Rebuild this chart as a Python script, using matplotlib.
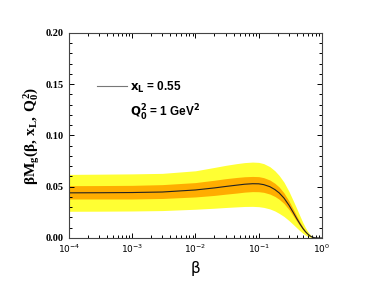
import numpy as np
import matplotlib
matplotlib.use("Agg")
import matplotlib.pyplot as plt
from matplotlib.ticker import LogLocator, MultipleLocator, NullFormatter

plt.rcParams['mathtext.fontset'] = 'custom'
plt.rcParams['mathtext.rm'] = 'Liberation Serif:bold'
plt.rcParams['mathtext.it'] = 'Liberation Serif:bold'
plt.rcParams['mathtext.bf'] = 'Liberation Serif:bold'

# values
beta = [1e-4, 3e-4, 1e-3, 3e-3, 1e-2, 2e-2, 3e-2, 4.5e-2, 6e-2, 8e-2, 0.1, 0.12,
        0.15, 0.18, 0.21, 0.25, 0.3, 0.35, 0.4, 0.45, 0.5, 0.55, 0.6, 0.65, 0.7,
        0.75, 0.8, 0.9, 1.0]
central = [0.044, 0.0441, 0.0443, 0.0448, 0.0468, 0.0488, 0.0502, 0.0515, 0.0524,
           0.0529, 0.0528, 0.0520, 0.0500, 0.0472, 0.0440, 0.0390, 0.0320, 0.0250,
           0.0187, 0.0135, 0.0092, 0.0060, 0.0036, 0.0019, 0.0009, 0.0003, 0.0001,
           0.0, 0.0]
yellow_hi = [0.062, 0.0622, 0.0625, 0.063, 0.0655, 0.0688, 0.0708, 0.0725, 0.0735,
             0.074, 0.0737, 0.0725, 0.0695, 0.0655, 0.0610, 0.0545, 0.0455, 0.0365,
             0.0285, 0.0212, 0.0148, 0.0098, 0.0060, 0.0032, 0.0015, 0.0006, 0.0002,
             0.0, 0.0]
yellow_lo = [0.026, 0.0261, 0.0263, 0.0267, 0.028, 0.0290, 0.0297, 0.0303, 0.0307,
             0.0308, 0.0305, 0.0298, 0.0283, 0.0263, 0.0240, 0.0210, 0.0170, 0.0132,
             0.0098, 0.0069, 0.0045, 0.0027, 0.0015, 0.0007, 0.0003, 0.0001, 0.0,
             0.0, 0.0]
orange_hi = [0.051, 0.0511, 0.0513, 0.052, 0.054, 0.0563, 0.0578, 0.0590, 0.0597,
             0.0600, 0.0598, 0.0588, 0.0565, 0.0533, 0.0497, 0.0440, 0.0362, 0.0283,
             0.0212, 0.0153, 0.0105, 0.0068, 0.0041, 0.0022, 0.0010, 0.0004, 0.0001,
             0.0, 0.0]
orange_lo = [0.038, 0.038, 0.038, 0.0385, 0.040, 0.0415, 0.0427, 0.0438, 0.0447,
             0.0452, 0.0451, 0.0445, 0.0428, 0.0405, 0.0378, 0.0337, 0.0278, 0.0217,
             0.0162, 0.0117, 0.0079, 0.0052, 0.0031, 0.0016, 0.0007, 0.0002, 0.0001,
             0.0, 0.0]

fig = plt.figure(figsize=(3.74, 2.86), dpi=100)
ax = fig.add_axes([0.184, 0.168, 0.677, 0.717])

ax.fill_between(beta, yellow_lo, yellow_hi, color='#ffff33', lw=0)
ax.fill_between(beta, orange_lo, orange_hi, color='#ffad00', lw=0)
ax.plot(beta, central, color='#222222', lw=0.8, label=r'$\mathbf{x_L}$ = 0.55')

ax.set_xscale('log')
ax.set_xlim(1e-4, 1)
ax.set_ylim(0, 0.2)
ax.xaxis.set_major_locator(LogLocator(base=10, numticks=10))
ax.xaxis.set_minor_locator(LogLocator(base=10, subs=np.arange(2, 10), numticks=10))
ax.xaxis.set_minor_formatter(NullFormatter())
ax.yaxis.set_major_locator(MultipleLocator(0.05))
ax.yaxis.set_minor_locator(MultipleLocator(0.01))
ax.yaxis.set_major_formatter(plt.FuncFormatter(lambda v, p: f'{v:.2f}'))

ax.tick_params(which='both', direction='in', top=True, right=True, width=0.7)
ax.tick_params(which='major', length=3.5, labelsize=7.5)
ax.tick_params(axis='x', which='major', labelsize=6.5)
ax.tick_params(which='minor', length=2)
for lbl in ax.get_yticklabels():
    lbl.set_fontfamily('Liberation Serif')
    lbl.set_fontweight('bold')
for s in ax.spines.values():
    s.set_linewidth(0.8)
    s.set_color('#444444')

ax.set_xlabel('β', fontsize=11, family='DejaVu Sans', labelpad=4)
ax.set_ylabel(r'$\beta M_g(\beta,\, x_L,\, Q_0^2)$', fontsize=11, labelpad=3)

leg = ax.legend(loc='upper left', bbox_to_anchor=(0.07, 0.825), frameon=False,
                handlelength=2.5, handletextpad=0.25,
                prop={'family': 'Liberation Sans', 'weight': 'bold', 'size': 8.5})
leg.get_lines()[0].set_color('#777777')
for t in leg.get_texts():
    t.set_math_fontfamily('dejavusans')
ax.text(0.24, 0.61, r'$\mathbf{Q_0^2}$ = 1 GeV$\mathbf{^2}$', transform=ax.transAxes,
        family='Liberation Sans', weight='bold', fontsize=8.5, va='center',
        math_fontfamily='dejavusans')

fig.savefig('out.png', dpi=100)
